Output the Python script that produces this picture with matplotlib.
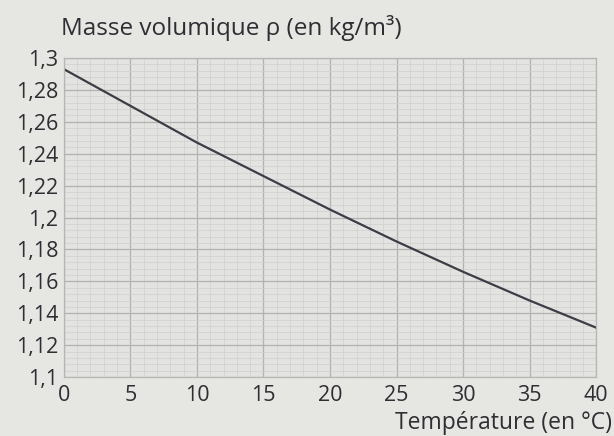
import matplotlib.pyplot as plt
from matplotlib.ticker import MultipleLocator, FuncFormatter

# Masse volumique de l'air en fonction de la température
temperatures = [0, 5, 10, 15, 20, 25, 30, 35, 40]
masse_vol = [1.293, 1.270, 1.247, 1.226, 1.205, 1.185, 1.166, 1.148, 1.131]

x_ticks = [0, 5, 10, 15, 20, 25, 30, 35, 40]
y_ticks = [1.1, 1.12, 1.14, 1.16, 1.18, 1.2, 1.22, 1.24, 1.26, 1.28, 1.3]

plt.rcParams['font.family'] = ['Open Sans', 'DejaVu Sans']

fig = plt.figure(figsize=(6.14, 4.36), dpi=100)
fig.patch.set_facecolor('#e6e6e3')
ax = fig.add_axes([0.104, 0.135, 0.867, 0.732])
ax.set_facecolor('#e3e4e1')

ax.plot(temperatures, masse_vol, color='#3c3d45', lw=1.6)

ax.set_xlim(0, 40)
ax.set_ylim(1.1, 1.3)
ax.set_xticks(x_ticks)
ax.set_yticks(y_ticks)
ax.xaxis.set_minor_locator(MultipleLocator(1))
ax.yaxis.set_minor_locator(MultipleLocator(0.004))
ax.yaxis.set_major_formatter(FuncFormatter(lambda v, p: ('%g' % round(v, 2)).replace('.', ',')))

ax.grid(which='major', color='#b2b3b0', lw=0.9)
ax.grid(which='minor', color='#d0d1ce', lw=0.5)
ax.set_axisbelow(True)
for s in ax.spines.values():
    s.set_color('#b6b7b4')
    s.set_linewidth(0.9)

ax.tick_params(which='both', length=0, colors='#2e2e33')
ax.tick_params(axis='x', labelsize=15.5, pad=6)
ax.tick_params(axis='y', labelsize=15.5, pad=4)

fig.text(0.100, 0.935, 'Masse volumique ρ (en kg/m³)', fontsize=17.5,
         color='#2e2e33', ha='left', va='center')
fig.text(0.997, 0.002, 'Température (en °C)', fontsize=16.5,
         color='#2e2e33', ha='right', va='bottom')

fig.savefig('out.png', dpi=100, facecolor=fig.get_facecolor())
